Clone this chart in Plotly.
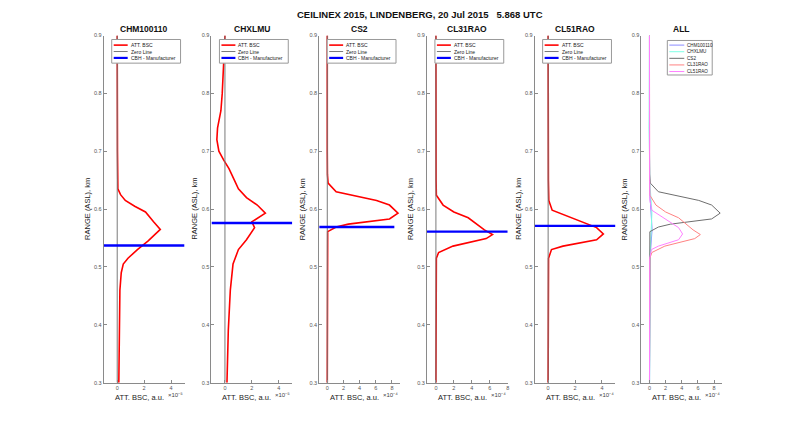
import plotly.graph_objects as go

# ---------------- data ----------------
instruments = ["CHM100110", "CHXLMU", "CS2", "CL31RAO", "CL51RAO"]
exponents = [-5, -5, -4, -4, -4]          # displayed multiplier 10^exp
cbh_km = [0.537, 0.576, 0.569, 0.561, 0.571]
cbh_x_span = [[-1, 5], [-1, 5], [-1, 8.3], [-1, 8], [-1, 5]]

chm_range = [0.30, 0.40, 0.46, 0.49, 0.505, 0.515, 0.53, 0.545, 0.565, 0.578,
             0.595, 0.605, 0.615, 0.625, 0.635, 0.70, 0.80, 0.90]
chm_bsc = [0.12, 0.15, 0.20, 0.30, 0.45, 0.80, 1.5, 2.3, 3.2, 2.7,
           2.1, 1.3, 0.6, 0.25, 0.05, 0.02, 0.0, 0.0]

chx_range = [0.30, 0.39, 0.46, 0.505, 0.53, 0.547, 0.568, 0.578, 0.593, 0.607,
             0.62, 0.635, 0.65, 0.67, 0.685, 0.70, 0.72, 0.74, 0.77, 0.80, 0.85, 0.90]
chx_bsc = [0.15, 0.25, 0.40, 0.60, 1.0, 1.6, 2.2, 2.0, 3.0, 2.4,
           1.6, 1.0, 0.7, 0.3, -0.1, -0.45, -0.6, -0.55, -0.3, -0.2, -0.1, 0.0]

cs2_range = [0.30, 0.50, 0.55, 0.561, 0.569, 0.574, 0.583, 0.593, 0.607, 0.615,
             0.63, 0.645, 0.66, 0.70, 0.90]
cs2_bsc = [0.0, 0.0, 0.0, 0.05, 1.1, 2.6, 7.7, 8.75, 7.7, 6.1,
           1.1, 0.1, 0.02, 0.0, 0.0]

cl31_range = [0.30, 0.50, 0.515, 0.525, 0.536, 0.549, 0.556, 0.564, 0.585, 0.595,
              0.607, 0.624, 0.65, 0.90]
cl31_bsc = [0.0, 0.0, 0.05, 0.3, 1.9, 5.6, 6.3, 5.4, 3.6, 2.0,
            0.8, 0.05, 0.02, 0.0]

cl51_range = [0.30, 0.50, 0.515, 0.53, 0.536, 0.547, 0.557, 0.568, 0.583, 0.598,
              0.615, 0.65, 0.90]
cl51_bsc = [0.0, 0.0, 0.03, 0.25, 1.1, 3.6, 4.1, 3.6, 1.9, 0.3,
            0.05, 0.02, 0.0]

profiles_range = [chm_range, chx_range, cs2_range, cl31_range, cl51_range]
profiles_bsc = [chm_bsc, chx_bsc, cs2_bsc, cl31_bsc, cl51_bsc]

x_ranges = [[-1, 5], [-1, 5], [-1, 9], [-1, 8], [-1, 5]]
x_tickvals = [[0, 2, 4], [0, 2, 4], [0, 2, 4, 6, 8], [0, 2, 4, 6, 8], [0, 2, 4]]
all_x_range = [-1, 9]
all_x_tickvals = [0, 2, 4, 6, 8]
all_exponent = -4
y_range = [0.3, 0.9]
y_tickvals = [0.3, 0.4, 0.5, 0.6, 0.7, 0.8, 0.9]

legend_labels = ["ATT. BSC", "Zero Line", "CBH - Manufacturer"]
all_colors = ["#8c8cff", "#80ffe6", "#6e6e6e", "#ff8282", "#ff80ff"]

main_title = "CEILINEX 2015, LINDENBERG, 20 Jul 2015   5.868 UTC"
x_title = "ATT. BSC, a.u."
y_title = "RANGE (ASL), km"

SUP = {"-": "\u207b", "4": "\u2074", "5": "\u2075"}

# ---------------- layout geometry ----------------
W, H = 800, 432
lefts = [104, 212, 320, 428, 536, 643]
pw = 81
top_px, bot_px = 33, 385
FONT = "Liberation Sans, Arial, sans-serif"
AX = "#8a8a8a"


def px(x):
    return x / W


def py(y):
    return 1 - y / H


fig = go.Figure()
layout = dict(width=W, height=H, margin=dict(l=0, r=0, t=0, b=0),
              paper_bgcolor="white", plot_bgcolor="white", showlegend=False,
              font=dict(family=FONT, color="#222"))
annotations = []
shapes = []

for i in range(6):
    xa = "xaxis" if i == 0 else f"xaxis{i+1}"
    ya = "yaxis" if i == 0 else f"yaxis{i+1}"
    xr = "x" if i == 0 else f"x{i+1}"
    yr = "y" if i == 0 else f"y{i+1}"
    L = lefts[i]
    rng = x_ranges[i] if i < 5 else all_x_range
    tv = x_tickvals[i] if i < 5 else all_x_tickvals
    layout[xa] = dict(domain=[px(L), px(L + pw)], range=rng, anchor=yr,
                      tickvals=tv, ticktext=[str(v) for v in tv],
                      showline=True, linecolor=AX, linewidth=1, showgrid=False,
                      zeroline=False, ticks="inside", ticklen=3, tickcolor=AX,
                      tickfont=dict(size=5.5, color="#555"), fixedrange=True)
    layout[ya] = dict(domain=[py(bot_px), py(top_px)], range=y_range, anchor=xr,
                      tickvals=y_tickvals, ticktext=[f"{v:.1f}" for v in y_tickvals],
                      showline=True, linecolor=AX, linewidth=1, showgrid=False,
                      zeroline=False, ticks="inside", ticklen=3, tickcolor=AX,
                      tickfont=dict(size=5.5, color="#555"), fixedrange=True)

    name = instruments[i] if i < 5 else "ALL"
    exp = exponents[i] if i < 5 else all_exponent
    exp_txt = "\u00d710" + "".join(SUP[c] for c in str(exp))
    # subplot title
    annotations.append(dict(x=px(L + pw / 2), y=py(26), xref="paper", yref="paper",
                            text=f"<b>{name}</b>", showarrow=False,
                            font=dict(size=8.5, color="#111"),
                            xanchor="center", yanchor="middle"))
    # x title + exponent
    annotations.append(dict(x=px(L + pw - 19), y=py(400), xref="paper", yref="paper",
                            text=x_title, showarrow=False, font=dict(size=7.5, color="#222"),
                            xanchor="right", yanchor="middle"))
    annotations.append(dict(x=px(L + pw - 19), y=py(398), xref="paper", yref="paper",
                            text=exp_txt, showarrow=False,
                            font=dict(size=6, color="#444"),
                            xanchor="left", yanchor="middle"))
    # y title
    annotations.append(dict(x=px(L - 17), y=py((top_px + bot_px) / 2), xref="paper",
                            yref="paper", text=y_title, textangle=-90, showarrow=False,
                            font=dict(size=7.5, color="#222"),
                            xanchor="center", yanchor="middle"))

    if i < 5:
        fig.add_trace(go.Scatter(x=profiles_bsc[i], y=profiles_range[i], mode="lines",
                                 line=dict(color="#ff0000", width=1.6),
                                 xaxis=xr, yaxis=yr, name=legend_labels[0]))
        fig.add_trace(go.Scatter(x=[0, 0], y=y_range, mode="lines",
                                 line=dict(color="#7a7a7a", width=1),
                                 xaxis=xr, yaxis=yr, name=legend_labels[1]))
        fig.add_trace(go.Scatter(x=cbh_x_span[i], y=[cbh_km[i], cbh_km[i]], mode="lines",
                                 line=dict(color="#0000ff", width=2.4),
                                 xaxis=xr, yaxis=yr, name=legend_labels[2]))
        # legend box
        bx0, bx1, by0, by1 = L + 8, L + pw - 4, 37, 61
        shapes.append(dict(type="rect", xref="paper", yref="paper",
                           x0=px(bx0), x1=px(bx1), y0=py(by1), y1=py(by0),
                           line=dict(color="#999", width=1), fillcolor="white", layer="above"))
        for k, (lab, col, lw) in enumerate(zip(legend_labels,
                                               ["#ff0000", "#7a7a7a", "#0000ff"],
                                               [1.6, 1, 2.2])):
            yy = 42.7 + k * 6.5
            shapes.append(dict(type="line", xref="paper", yref="paper",
                               x0=px(L + 10), x1=px(L + 24), y0=py(yy), y1=py(yy),
                               line=dict(color=col, width=lw), layer="above"))
            annotations.append(dict(x=px(L + 25), y=py(yy), xref="paper", yref="paper",
                                    text=lab, showarrow=False, font=dict(size=5, color="#222"),
                                    xanchor="left", yanchor="middle"))
    else:
        for j in range(5):
            scale = 10 ** (exponents[j] - all_exponent)
            fig.add_trace(go.Scatter(x=[v * scale for v in profiles_bsc[j]],
                                     y=profiles_range[j], mode="lines",
                                     line=dict(color=all_colors[j], width=1),
                                     xaxis=xr, yaxis=yr, name=instruments[j]))
        bx0, bx1, by0, by1 = L + 26, L + 71, 38, 73
        shapes.append(dict(type="rect", xref="paper", yref="paper",
                           x0=px(bx0), x1=px(bx1), y0=py(by1), y1=py(by0),
                           line=dict(color="#999", width=1), fillcolor="white", layer="above"))
        for k in range(5):
            yy = 42.7 + k * 6.7
            shapes.append(dict(type="line", xref="paper", yref="paper",
                               x0=px(L + 28), x1=px(L + 43), y0=py(yy), y1=py(yy),
                               line=dict(color=all_colors[k], width=1), layer="above"))
            annotations.append(dict(x=px(L + 44), y=py(yy), xref="paper", yref="paper",
                                    text=instruments[k], showarrow=False,
                                    font=dict(size=4.6, color="#222"),
                                    xanchor="left", yanchor="middle"))

annotations.append(dict(x=px(421), y=py(12), xref="paper", yref="paper",
                        text=f"<b>{main_title}</b>", showarrow=False,
                        font=dict(size=9.5, color="#111"),
                        xanchor="center", yanchor="middle"))

layout["annotations"] = annotations
layout["shapes"] = shapes
fig.update_layout(**layout)
fig.write_html("out.html")
